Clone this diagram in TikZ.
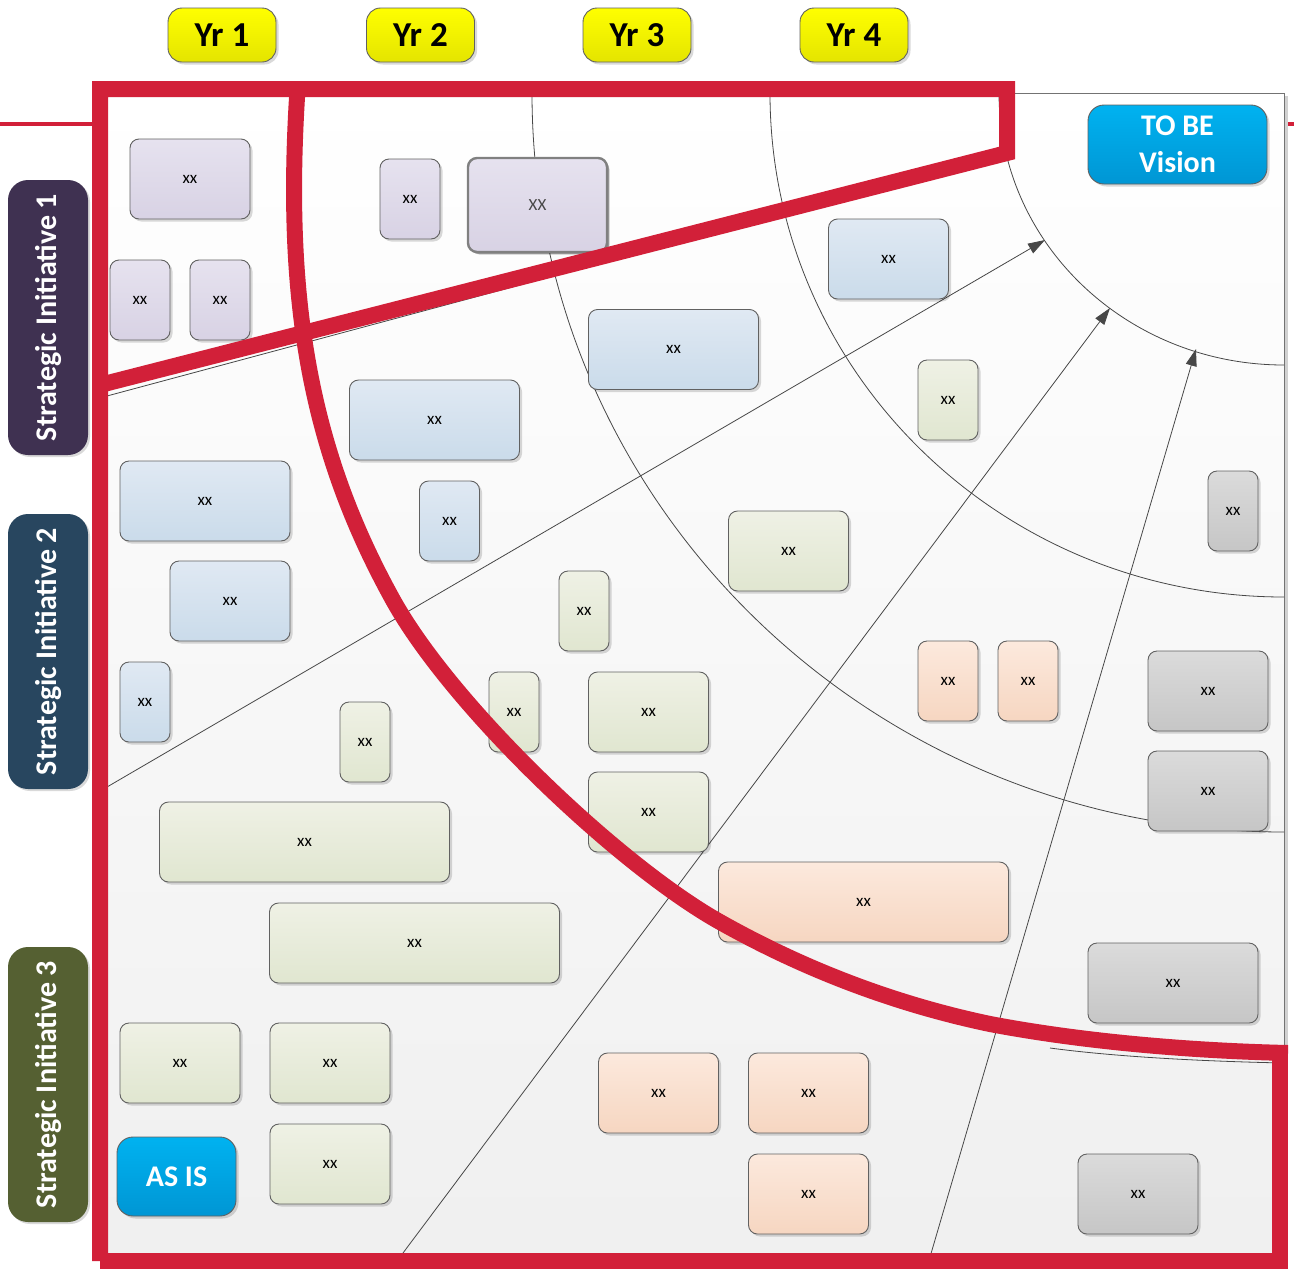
\documentclass[tikz,border=0pt]{standalone}
\usepackage{fontspec}
\setmainfont{Carlito}
\usetikzlibrary{arrows.meta,shadows}
\definecolor{rd}{RGB}{210,32,57}
\definecolor{pT}{HTML}{E6E2EF}\definecolor{pB}{HTML}{D8D2E4}
\definecolor{bT}{HTML}{E0E9F3}\definecolor{bB}{HTML}{CADBEA}
\definecolor{gT}{HTML}{EFF1E5}\definecolor{gB}{HTML}{E0E6D0}
\definecolor{oT}{HTML}{FCE9DD}\definecolor{oB}{HTML}{F6D6C1}
\definecolor{kT}{HTML}{DBDBDB}\definecolor{kB}{HTML}{C6C6C6}
\definecolor{cT}{HTML}{00B2F0}\definecolor{cB}{HTML}{0096D4}
\definecolor{yT}{HTML}{FFFF00}\definecolor{yB}{HTML}{E4E400}
\definecolor{siA}{HTML}{3F3151}\definecolor{siB}{HTML}{28465F}\definecolor{siC}{HTML}{556032}
\tikzset{
  box/.style={draw=black!62, line width=0.9pt, rounded corners=9pt, inner sep=0pt,
    font=\fontsize{17}{19}\selectfont,
    drop shadow={shadow xshift=2.5pt, shadow yshift=-2.5pt, opacity=0.15, fill=black}},
  sz/.style 2 args={minimum width=#1pt, minimum height=#2pt},
  pbox/.style={box, top color=pT, bottom color=pB},
  bbox/.style={box, top color=bT, bottom color=bB},
  gbox/.style={box, top color=gT, bottom color=gB},
  obox/.style={box, top color=oT, bottom color=oB},
  kbox/.style={box, top color=kT, bottom color=kB},
  cbox/.style={box, top color=cT, bottom color=cB, text=white, align=center,
    font=\bfseries\fontsize{30}{37}\selectfont, rounded corners=16pt},
  ybox/.style={box, top color=yT, bottom color=yB, rounded corners=14pt,
    font=\bfseries\fontsize{35}{40}\selectfont, sz={108}{54}},
  sibox/.style={rounded corners=20pt, rotate=90, text=white, inner sep=0pt,
    font=\bfseries\fontsize{30}{34}\selectfont, sz={275}{80},
    drop shadow={shadow xshift=2pt, shadow yshift=-2pt, opacity=0.15, fill=black}},
  thinarc/.style={draw=black!72, line width=0.8pt},
  spoke/.style={draw=black!72, line width=0.8pt, -{Triangle[length=17pt,width=11pt]}},
  redl/.style={draw=rd, line width=16pt, line join=miter},
}
\begin{document}
\begin{tikzpicture}[x=1pt,y=-1pt]
\useasboundingbox (0,0) rectangle (1294,1275);
% red guide line
\draw[rd, line width=3.5pt] (0,124) -- (1294,124);
% panel
\fill[black!18] (103,96) rectangle (1288,1260);
\draw[black!55, line width=0.8pt, top color=white, bottom color=black!6] (100,93) rectangle (1284,1257);
% rings
\begin{scope}
  \clip (100,93) rectangle (1284,1257);
  \draw[thinarc] (1284,93) ellipse [x radius=285, y radius=272];
  \draw[thinarc] (1284,93) ellipse [x radius=514, y radius=504];
  \draw[thinarc] (1284,93) ellipse [x radius=752, y radius=739];
  \draw[thinarc] (1284,1063) .. controls (1190,1061) and (1110,1056) .. (1050,1048);
\end{scope}
% spokes
\coordinate (s1a) at (107,396); \coordinate (s1b) at (1000,156);
\coordinate (s2a) at (107,787); \coordinate (s2b) at (1045,240);
\coordinate (s3a) at (400,1257); \coordinate (s3b) at (1110,308);
\coordinate (s4a) at (930,1257); \coordinate (s4b) at (1196,349);
\draw[thinarc] (s1a) -- (s1b);
\draw[spoke] (s2a) -- (s2b);
\draw[spoke] (s3a) -- (s3b);
\draw[spoke] (s4a) -- (s4b);
% year labels
\node[ybox] (yr1) at (222,35) {Yr 1};
\node[ybox] (yr2) at (420.5,35) {Yr 2};
\node[ybox] (yr3) at (637,35) {Yr 3};
\node[ybox] (yr4) at (854,35) {Yr 4};
% strategic initiatives
\node[sibox, fill=siA] (si1) at (48,317.5) {Strategic Initiative 1};
\node[sibox, fill=siB] (si2) at (48,651.5) {Strategic Initiative 2};
\node[sibox, fill=siC] (si3) at (48,1084.5) {Strategic Initiative 3};
% purple
\node[pbox, sz={120}{80}] (p1) at (190,179) {xx};
\node[pbox, sz={60}{80}] (p2) at (140,300) {xx};
\node[pbox, sz={60}{80}] (p3) at (220,300) {xx};
\node[pbox, sz={60}{80}] (p4) at (410,199) {xx};
\node[pbox, sz={139}{94}, draw=black!50, line width=2.4pt, text=black!72,
  drop shadow={shadow xshift=2pt, shadow yshift=-2pt, opacity=0.3, fill=black}] (p5) at (537.5,205) {XX};
% blue
\node[bbox, sz={120}{80}] (b1) at (888.5,259) {xx};
\node[bbox, sz={170}{80}] (b2) at (673.5,349.5) {xx};
\node[bbox, sz={170}{80}] (b3) at (434.5,420) {xx};
\node[bbox, sz={170}{80}] (b4) at (205,501) {xx};
\node[bbox, sz={60}{80}] (b5) at (449.5,521) {xx};
\node[bbox, sz={120}{80}] (b6) at (230,601) {xx};
\node[bbox, sz={50}{80}] (b7) at (145,702) {xx};
% green
\node[gbox, sz={60}{80}] (g1) at (948,400) {xx};
\node[gbox, sz={120}{80}] (g2) at (788.5,551) {xx};
\node[gbox, sz={50}{80}] (g3) at (584,611) {xx};
\node[gbox, sz={50}{80}] (g4) at (514,712) {xx};
\node[gbox, sz={120}{80}] (g5) at (648.5,712) {xx};
\node[gbox, sz={50}{80}] (g6) at (365,742) {xx};
\node[gbox, sz={120}{80}] (g7) at (648.5,812) {xx};
\node[gbox, sz={290}{80}] (g8) at (304.5,842) {xx};
\node[gbox, sz={290}{80}] (g9) at (414.5,943) {xx};
\node[gbox, sz={120}{80}] (g10) at (180,1063) {xx};
\node[gbox, sz={120}{80}] (g11) at (330,1063) {xx};
\node[gbox, sz={120}{80}] (g12) at (330,1164) {xx};
% peach
\node[obox, sz={60}{80}] (o1) at (948,681) {xx};
\node[obox, sz={60}{80}] (o2) at (1028,681) {xx};
\node[obox, sz={290}{80}] (o3) at (863.5,902) {xx};
\node[obox, sz={120}{80}] (o4) at (658.5,1093) {xx};
\node[obox, sz={120}{80}] (o5) at (808.5,1093) {xx};
\node[obox, sz={120}{80}] (o6) at (808.5,1194) {xx};
% gray
\node[kbox, sz={50}{80}] (k1) at (1233,511) {xx};
\node[kbox, sz={120}{80}] (k2) at (1208,691) {xx};
\node[kbox, sz={120}{80}] (k3) at (1208,791) {xx};
\node[kbox, sz={170}{80}] (k4) at (1173,983) {xx};
\node[kbox, sz={120}{80}] (k5) at (1138,1194) {xx};
% as-is / to-be
\node[cbox, sz={179}{79}] (tobe) at (1177.5,144.5) {TO BE\\Vision};
\node[cbox, sz={119}{79}] (asis) at (176.5,1176.5) {AS IS};
% red overlays
\draw[redl] (100,1261) -- (100,89) -- (1007,89) -- (1007,153) -- (100,385);
\draw[redl] (100,1261) -- (1280,1261) -- (1280,1052);
\draw[redl] (298,82) .. controls (283,300) and (310,450) .. (393,600)
  .. controls (453,708) and (620,866) .. (720,922)
  .. controls (800,967) and (890,1003) .. (990,1024)
  .. controls (1090,1043) and (1200,1051) .. (1288,1053);
\end{tikzpicture}
\end{document}
